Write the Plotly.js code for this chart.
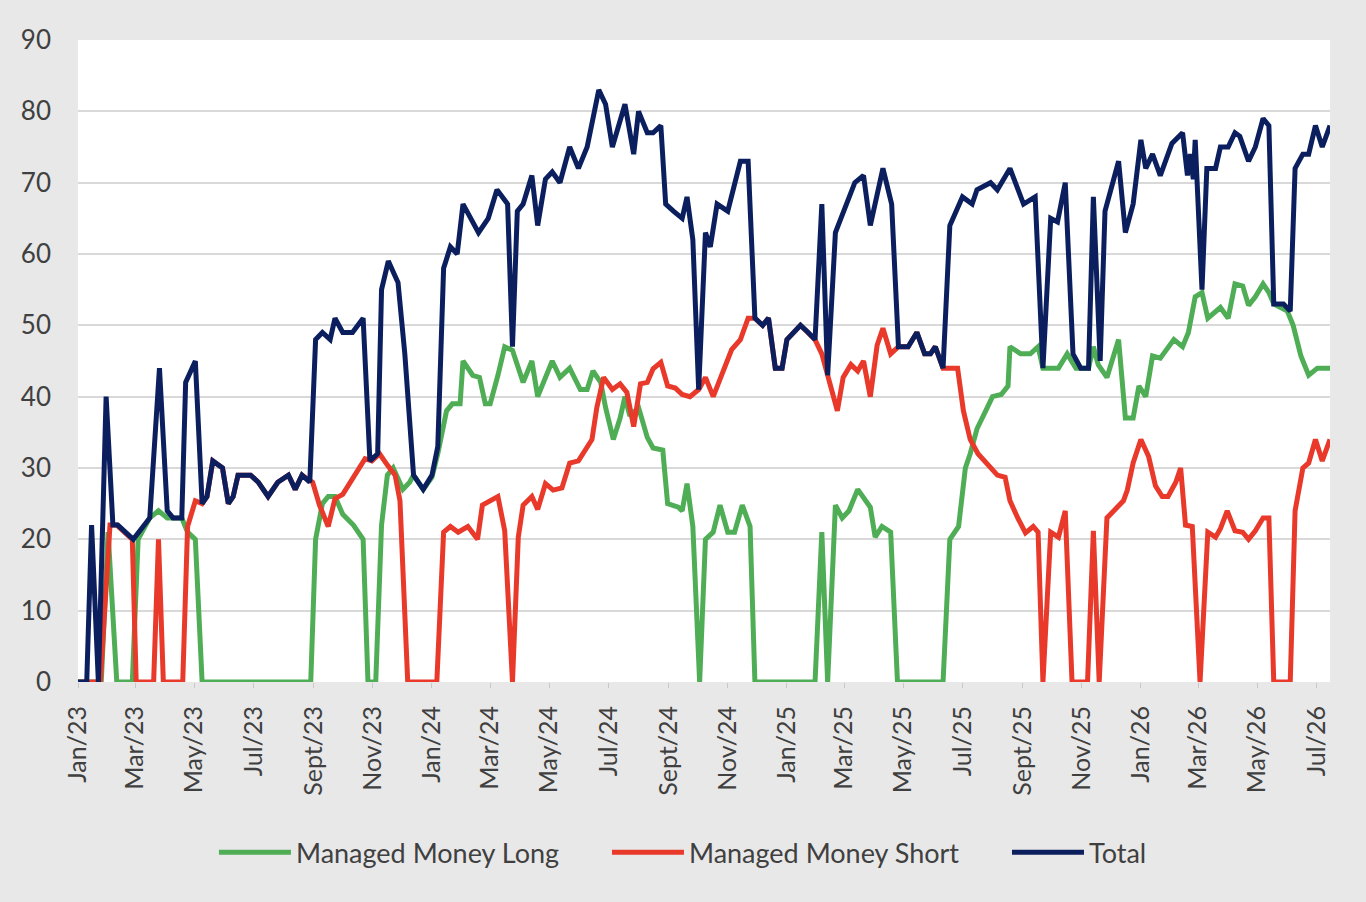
<!DOCTYPE html>
<html>
<head>
<meta charset="utf-8">
<script src="https://cdn.plot.ly/plotly-3.0.1.min.js"></script>
<style>
  html, body { margin: 0; padding: 0; background: #e8e8e8; }
  #chart { width: 1366px; height: 902px; }
</style>
</head>
<body>
<div id="chart"></div>
<script>
// Managed Money Long (weekly, only turning points kept)
const longDates = ['2023-01-01','2023-01-25','2023-02-01','2023-02-10','2023-02-26','2023-03-04','2023-03-16','2023-03-25','2023-04-03','2023-04-18','2023-04-24','2023-05-02','2023-05-09',
  '2023-08-29','2023-09-03','2023-09-10','2023-09-16','2023-09-23','2023-10-01','2023-10-12','2023-10-22','2023-10-27','2023-11-04','2023-11-10','2023-11-16','2023-11-22','2023-12-02','2023-12-09','2023-12-13','2023-12-23',
  '2024-01-01','2024-01-07','2024-01-16','2024-01-22','2024-01-30','2024-02-02','2024-02-12','2024-02-19','2024-02-25','2024-03-01','2024-03-09','2024-03-16','2024-03-24','2024-04-04','2024-04-13','2024-04-19','2024-05-04','2024-05-12','2024-05-22','2024-06-02','2024-06-09','2024-06-15','2024-06-23','2024-06-28','2024-07-06','2024-07-13','2024-07-18','2024-07-23','2024-08-01','2024-08-10','2024-08-16','2024-08-26','2024-08-31','2024-09-11','2024-09-15','2024-09-20','2024-09-26','2024-10-03','2024-10-09','2024-10-17','2024-10-24','2024-11-01','2024-11-08','2024-11-16','2024-11-24','2024-11-29',
  '2025-01-30','2025-02-06','2025-02-12','2025-02-20','2025-02-27','2025-03-06','2025-03-15','2025-03-21','2025-03-28','2025-04-02','2025-04-09','2025-04-18','2025-04-25','2025-06-11','2025-06-18','2025-06-27','2025-07-04','2025-07-09','2025-07-16','2025-07-25','2025-08-01','2025-08-10','2025-08-17','2025-08-19','2025-08-30','2025-09-09','2025-09-17','2025-09-22','2025-10-08','2025-10-17','2025-10-26','2025-11-08','2025-11-13','2025-11-18','2025-11-27','2025-12-09','2025-12-16','2025-12-24','2025-12-30',
  '2026-01-06','2026-01-13','2026-01-21','2026-01-29','2026-02-04','2026-02-13','2026-02-19','2026-02-26','2026-03-05','2026-03-11','2026-03-19','2026-03-24','2026-04-01','2026-04-08','2026-04-16','2026-04-22','2026-04-29','2026-05-07','2026-05-13','2026-05-18','2026-06-01','2026-06-07','2026-06-15','2026-06-23','2026-07-02','2026-07-15'];
const longValues = [0,0,21,0,0,20,23,24,23,23,21,20,0,
  0,20,25,26,26,23.5,22,20,0,0,22,29,30,27,28,29,27,
  28.7,32,38,39,39,45,43,42.7,39,39,43,47,46.5,42,45,40,45,42.7,44,41,41,43.6,42,38.5,34,37,40,37.3,38.5,34.3,32.8,32.5,25,24.5,24,27.8,21.8,0,20,21,24.8,21,21,24.8,21.8,0,
  0,21,0,24.8,23,24,27,25.7,24.5,20.3,21.8,21,0,0,20,21.8,30,32,35.5,38,40,40.3,41.5,47,46,46,47,44,44,46,44,44,47,44.5,42.7,48,37,37,41.5,
  40,45.7,45.4,47,48,47,49,54,54.6,51,52,52.5,51,55.8,55.5,52.8,54,55.8,54.6,53,52,50,45.7,43,44,44];

// Managed Money Short
const shortDates = ['2023-01-01','2023-01-24','2023-02-03','2023-02-10','2023-02-26','2023-03-02','2023-03-20','2023-03-25','2023-03-30','2023-04-19','2023-04-24','2023-05-02','2023-05-09','2023-05-14','2023-05-20','2023-05-30','2023-06-05','2023-06-10','2023-06-15','2023-06-28','2023-07-06','2023-07-16','2023-07-26','2023-08-06','2023-08-13','2023-08-20','2023-08-31','2023-09-07','2023-09-16','2023-09-23','2023-10-01','2023-10-08','2023-10-17','2023-10-24','2023-10-31','2023-11-08','2023-11-16','2023-11-24','2023-11-29','2023-12-07',
  '2024-01-06','2024-01-13','2024-01-20','2024-01-28','2024-02-07','2024-02-17','2024-02-22','2024-03-01','2024-03-09','2024-03-16','2024-03-24','2024-03-30','2024-04-04','2024-04-13','2024-04-19','2024-04-27','2024-05-05','2024-05-14','2024-05-22','2024-05-31','2024-06-09','2024-06-14','2024-06-19','2024-06-26','2024-07-05','2024-07-13','2024-07-20','2024-07-27','2024-08-03','2024-08-10','2024-08-16','2024-08-24','2024-08-31','2024-09-08','2024-09-15','2024-09-23','2024-10-02','2024-10-09','2024-10-17','2024-10-28','2024-11-05','2024-11-14','2024-11-22','2024-11-29','2024-12-07','2024-12-13','2024-12-20','2024-12-27',
  '2025-01-01','2025-01-15','2025-01-23','2025-01-30','2025-02-06','2025-02-12','2025-02-22','2025-02-28','2025-03-08','2025-03-15','2025-03-21','2025-03-28','2025-04-04','2025-04-10','2025-04-18','2025-04-26','2025-05-06','2025-05-15','2025-05-23','2025-05-29','2025-06-03','2025-06-11','2025-06-26','2025-07-02','2025-07-09','2025-07-17','2025-07-27','2025-08-06','2025-08-14','2025-08-19','2025-08-27','2025-09-04','2025-09-12','2025-09-17','2025-09-22','2025-09-30','2025-10-08','2025-10-15','2025-10-22','2025-11-07','2025-11-13','2025-11-19','2025-11-27','2025-12-06','2025-12-14','2025-12-18','2025-12-24',
  '2026-01-01','2026-01-09','2026-01-16','2026-01-23','2026-01-29','2026-02-06','2026-02-11','2026-02-16','2026-02-23','2026-03-03','2026-03-11','2026-03-19','2026-03-24','2026-03-31','2026-04-08','2026-04-16','2026-04-22','2026-04-29','2026-05-07','2026-05-13','2026-05-18','2026-06-04','2026-06-09','2026-06-17','2026-06-23','2026-06-30','2026-07-07','2026-07-15'];
const shortValues = [0,0,22,22,20,0,0,20,0,0,21.8,25.4,25,26,31,30,25,26,29,29,28,26,28,29,27,29,28,24.8,21.8,25.7,26.3,27.8,30,31.3,31,32,30.4,29,25.4,0,
  0,21,21.8,21,21.8,20,24.8,25.4,26,21.2,0,20.3,24.8,26,24.2,27.8,26.9,27.2,30.7,31,33,34,38.5,42.7,41,41.8,40.6,35.8,41.8,42,43.9,44.8,41.5,41.2,40.3,40,41,42.7,40,43.6,46.6,48,51,51,50,51,44,44,
  48,50,49,48,46,43,38,42.7,44.5,43.6,45,40,47.2,49.6,46,47,47,49,46,46,47,44,44,38,34,32,30.5,29,28.7,25.4,23,20.9,21.8,21,0,21,20.3,24,0,0,21.2,0,23,24.2,25.4,26.9,30.7,
  34,31.6,27.5,26,26,28,30,22,21.8,0,21,20.3,21.5,24,21.2,21,20,21.2,23,23,0,0,24,30,30.7,34,31,34];

// Total
const totalDates = ['2023-01-01','2023-01-10','2023-01-15','2023-01-22','2023-01-30','2023-02-06','2023-02-11','2023-02-27','2023-03-16','2023-03-26','2023-04-03','2023-04-09','2023-04-18','2023-04-22','2023-05-02','2023-05-09','2023-05-14','2023-05-20','2023-05-30','2023-06-05','2023-06-10','2023-06-15','2023-06-28','2023-07-06','2023-07-16','2023-07-26','2023-08-06','2023-08-13','2023-08-20','2023-08-28','2023-09-03','2023-09-10','2023-09-18','2023-09-23','2023-10-01','2023-10-11','2023-10-22','2023-10-29','2023-11-06','2023-11-10','2023-11-17','2023-11-27','2023-12-04','2023-12-13','2023-12-23',
  '2024-01-01','2024-01-07','2024-01-13','2024-01-20','2024-01-27','2024-02-02','2024-02-18','2024-02-28','2024-03-08','2024-03-19','2024-03-24','2024-03-29','2024-04-04','2024-04-13','2024-04-19','2024-04-27','2024-05-04','2024-05-12','2024-05-22','2024-05-31','2024-06-09','2024-06-21','2024-06-28','2024-07-05','2024-07-18','2024-07-27','2024-08-01','2024-08-10','2024-08-16','2024-08-24','2024-08-29','2024-09-06','2024-09-15','2024-09-20','2024-09-26','2024-10-02','2024-10-09','2024-10-14','2024-10-21','2024-11-01','2024-11-05','2024-11-14','2024-11-22','2024-11-29','2024-12-07','2024-12-13','2024-12-20','2024-12-27',
  '2025-01-01','2025-01-15','2025-01-23','2025-01-30','2025-02-06','2025-02-12','2025-02-20','2025-02-28','2025-03-12','2025-03-21','2025-03-28','2025-04-10','2025-04-19','2025-04-26','2025-05-06','2025-05-15','2025-05-23','2025-05-29','2025-06-03','2025-06-11','2025-06-18','2025-07-01','2025-07-11','2025-07-16','2025-07-30','2025-08-06','2025-08-19','2025-09-02','2025-09-14','2025-09-22','2025-09-30','2025-10-07','2025-10-15','2025-10-23','2025-10-31','2025-11-08','2025-11-13','2025-11-20','2025-11-25','2025-12-09','2025-12-16','2025-12-24',
  '2026-01-01','2026-01-06','2026-01-13','2026-01-21','2026-02-02','2026-02-13','2026-02-18','2026-02-21','2026-02-24','2026-02-26','2026-03-05','2026-03-10','2026-03-19','2026-03-24','2026-04-01','2026-04-08','2026-04-13','2026-04-22','2026-04-29','2026-05-07','2026-05-13','2026-05-18','2026-05-28','2026-06-04','2026-06-09','2026-06-17','2026-06-23','2026-06-30','2026-07-07','2026-07-15'];
const totalValues = [0,0,22,0,40,22,22,20,23,44,24,23,23,42,45,25,26,31,30,25,26,29,29,28,26,28,29,27,29,28,48,49,48,51,49,49,51,31,32,55,59,56,46,29,27,
  29,33,58,61,60,67,63,65,69,67,47,66,67,71,64,70.5,71.5,70,75,72,75,83,81,75,81,74,80,77,77,78,67,66,65,68,62,41,63,61,67,66,68,73,73,51,50,51,44,44,
  48,50,49,48,67,43,63,66,70,71,64,72,67,47,47,49,46,46,47,44,64,68,67,69,70,69,72,67,68,44,65,64.5,70,46,44,44,68,45,66,73,63,67,
  76,72,74,71,75.5,77,71,74,70.5,76,55,72,72,75,75,77,76.5,73,75,79,78,53,53,52,72,74,74,78,75,78];

// x axis labels
const tickDates = ['2023-01-01','2023-03-01','2023-05-01','2023-07-01','2023-09-01','2023-11-01','2024-01-01','2024-03-01','2024-05-01','2024-07-01','2024-09-01','2024-11-01',
  '2025-01-01','2025-03-01','2025-05-01','2025-07-01','2025-09-01','2025-11-01','2026-01-01','2026-03-01','2026-05-01','2026-07-01'];
const tickLabels = ['Jan/23','Mar/23','May/23','Jul/23','Sept/23','Nov/23','Jan/24','Mar/24','May/24','Jul/24','Sept/24','Nov/24',
  'Jan/25','Mar/25','May/25','Jul/25','Sept/25','Nov/25','Jan/26','Mar/26','May/26','Jul/26'];

const FONT = 'Lato, "Liberation Sans", sans-serif';

const traces = [
  {x: longDates, y: longValues, type: 'scatter', mode: 'lines', name: 'Managed Money Long',
   line: {color: '#4fae55', width: 5}, legend: 'legend'},
  {x: shortDates, y: shortValues, type: 'scatter', mode: 'lines', name: 'Managed Money Short',
   line: {color: '#e8392a', width: 5}, legend: 'legend2'},
  {x: totalDates, y: totalValues, type: 'scatter', mode: 'lines', name: 'Total',
   line: {color: '#0b1f5e', width: 5}, legend: 'legend3'}
];

// one legend box per series so each entry sits where the original puts it
function legendAt(x) {
  return {orientation: 'h', x: x, xanchor: 'left', y: -0.266, yanchor: 'middle',
    font: {size: 27, color: '#404040'}, bgcolor: 'rgba(0,0,0,0)', itemwidth: 72};
}

const layout = {
  width: 1366, height: 902,
  paper_bgcolor: '#e8e8e8',
  plot_bgcolor: '#ffffff',
  margin: {l: 78, r: 36, t: 40, b: 220},
  font: {family: FONT, color: '#404040', size: 20},
  showlegend: true,
  legend: legendAt(0.1086),
  legend2: legendAt(0.4225),
  legend3: legendAt(0.742),
  xaxis: {
    type: 'date', range: ['2023-01-01', '2026-07-15'],
    tickvals: tickDates, ticktext: tickLabels, tickangle: -90,
    ticks: 'outside', ticklen: 5, tickcolor: '#c8c8c8',
    ticklabelstandoff: 8,
    showgrid: false, zeroline: false, showline: false,
    tickfont: {size: 25, color: '#404040'}
  },
  yaxis: {
    range: [0, 90], dtick: 10, tick0: 0,
    showgrid: true, gridcolor: '#d9d9d9', gridwidth: 1.5,
    zeroline: false, showline: false, ticks: '',
    ticklabelstandoff: 26,
    tickfont: {size: 26, color: '#404040'}
  }
};

Plotly.newPlot('chart', traces, layout, {displayModeBar: false});
</script>
</body>
</html>
